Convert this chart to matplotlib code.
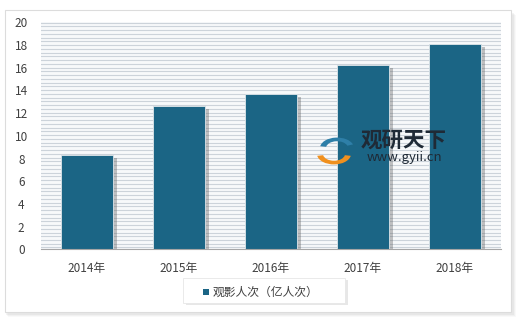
import numpy as np
import matplotlib
matplotlib.use("Agg")
import matplotlib.pyplot as plt
from matplotlib.patches import Rectangle, Wedge
import matplotlib.patheffects as pe

plt.rcParams['font.family'] = ['Noto Sans CJK SC', 'DejaVu Sans']

years = ['2014年', '2015年', '2016年', '2017年', '2018年']
viewers = [8.3, 12.6, 13.7, 16.2, 18.1]
series_name = '观影人次（亿人次）'
y_ticks = [0, 2, 4, 6, 8, 10, 12, 14, 16, 18, 20]

W, H = 520, 319
fig = plt.figure(figsize=(W / 100, H / 100), dpi=100)
fig.patch.set_facecolor('white')

# outer card with soft shadow
for i, a in enumerate([0.10, 0.08, 0.06]):
    fig.patches.append(Rectangle((6 / W + i / W, 4 / H - i / H), 508 / W, 302 / H,
                                 transform=fig.transFigure, facecolor='#9a9a9a',
                                 edgecolor='none', alpha=a, zorder=0))
fig.patches.append(Rectangle((5 / W, 7 / H), 506 / W, 302 / H, transform=fig.transFigure,
                             facecolor='white', edgecolor='#dcdcdc', lw=0.8, zorder=0.5))

ax = fig.add_axes([40.7 / W, (H - 249.3) / H, 460 / W, 227 / H])
ax.set_zorder(2)
ax.set_facecolor('#f7f9fa')
ax.set_xlim(-0.5, len(years) - 0.5)
ax.set_ylim(0, 20)

# striped background
for yv in np.arange(0.16, 20.01, 0.33):
    ax.axhline(yv, color='#ccd3da', lw=0.8, zorder=0.5)

x = np.arange(len(years))
bars = ax.bar(x, viewers, width=0.565, color='#1b6585', edgecolor='#dfe6ea', lw=0.6,
              zorder=2)
for b in bars:
    b.set_path_effects([pe.SimplePatchShadow(offset=(3, -2), shadow_rgbFace='#555555',
                                             alpha=0.35), pe.Normal()])

ax.set_xticks(x)
ax.set_xticklabels(years)
ax.set_yticks(y_ticks)
ax.tick_params(axis='both', length=0, labelsize=8.5, colors='#404040')
ax.tick_params(axis='x', pad=9)
ax.tick_params(axis='y', pad=14)
for lbl in ax.get_yticklabels():
    lbl.set_horizontalalignment('center')
for s in ['top', 'right', 'left']:
    ax.spines[s].set_visible(False)
ax.spines['bottom'].set_color('#a6a6a6')

# watermark
fig.text(404 / W, 1 - 140 / H, '观研天下', fontsize=15.5, fontweight='bold', color='#1f2a36',
         ha='center', va='center', zorder=5)
fig.text(404 / W, 1 - 158 / H, 'www.gyii.cn', fontsize=9.5, color='#1f2a36',
         ha='center', va='center', zorder=5)
fig.patches.append(Wedge((334 / W, 1 - 154 / H), 17 / W, 190, 350, width=6 / W,
                         transform=fig.transFigure, facecolor='#f0901e',
                         edgecolor='none', zorder=5))
fig.patches.append(Wedge((337 / W, 1 - 148 / H), 17 / W, 20, 170, width=6 / W,
                         transform=fig.transFigure, facecolor='#2e7fa8',
                         edgecolor='none', zorder=5))

# legend box
fig.patches.append(Rectangle((186 / W, 1 - 305 / H), 162 / W, 25 / H,
                             transform=fig.transFigure, facecolor='#d8d8d8',
                             edgecolor='none', alpha=0.6, zorder=1))
fig.patches.append(Rectangle((183 / W, 1 - 303 / H), 162 / W, 25 / H,
                             transform=fig.transFigure, facecolor='white',
                             edgecolor='#e6e6e6', lw=0.6, zorder=1.5))
fig.patches.append(Rectangle((203 / W, 1 - 295 / H), 6 / W, 6 / H,
                             transform=fig.transFigure, facecolor='#1b6585',
                             edgecolor='none', zorder=2))
fig.text(213 / W, 1 - 292 / H, series_name, fontsize=8.5, color='#404040',
         ha='left', va='center', zorder=3)

fig.savefig('out.png', dpi=100)
